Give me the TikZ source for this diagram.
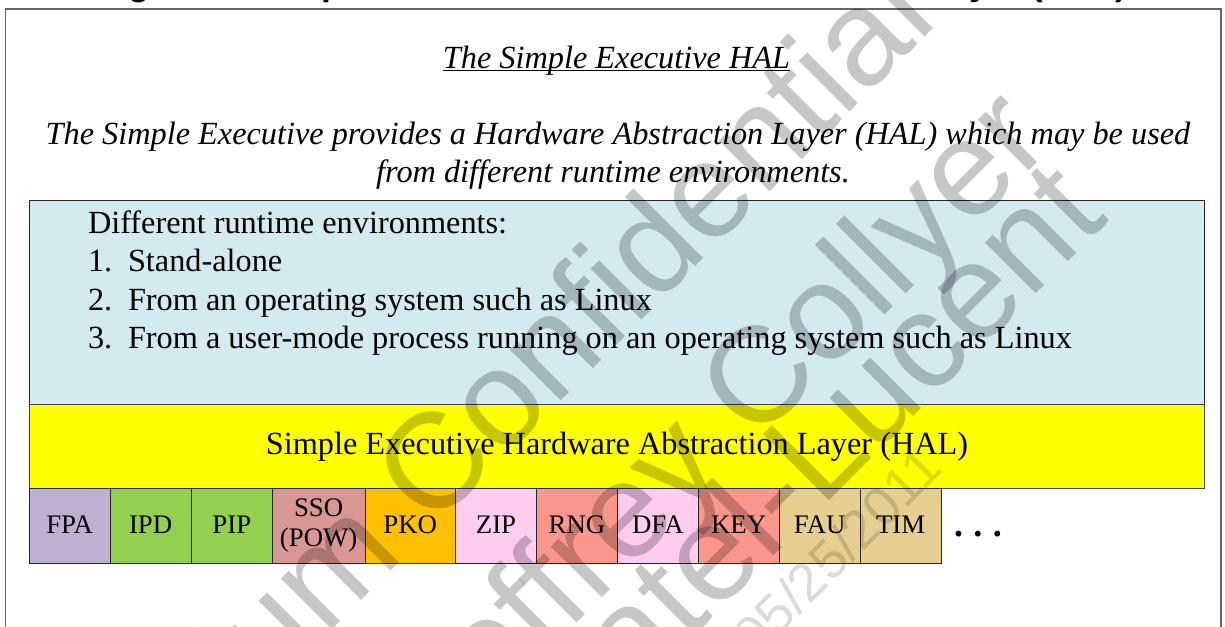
\documentclass[tikz,border=0pt]{standalone}
\usepackage{fontspec}
\setmainfont{Liberation Serif}
\newfontfamily\headsans{Liberation Sans}

\definecolor{envblue}{HTML}{D2EAF0}
\definecolor{halyellow}{HTML}{FFFF00}
\definecolor{fpacol}{HTML}{BFB0D2}
\definecolor{greencol}{HTML}{92D050}
\definecolor{ssocol}{HTML}{D99694}
\definecolor{pkocol}{HTML}{FFC000}
\definecolor{pinkcol}{HTML}{FDCCEF}
\definecolor{salmoncol}{HTML}{FA978A}
\definecolor{tancol}{HTML}{E5CE8F}
\definecolor{wmgray}{gray}{0.78}
\definecolor{wmlight}{gray}{0.86}

\begin{document}
\begin{tikzpicture}[x=1bp,y=-1bp,
  every node/.style={inner sep=0pt,outer sep=0pt},
  frame/.style={draw=black!60,line width=1.2bp},
  panel/.style={draw=black!85,line width=0.9bp,anchor=north west},
  bodytxt/.style={font=\fontsize{32.3bp}{38bp}\selectfont},
  introtxt/.style={font=\fontsize{32.3bp}{38bp}\selectfont\itshape},
  modbox/.style={draw=black!85,line width=0.9bp,anchor=north west,
    minimum height=75bp,align=center,
    font=\fontsize{26.8bp}{30bp}\selectfont},
  modlabel/.style={text height=18bp,text depth=2.6bp},
  wmark/.style={font=\fontsize{136bp}{150bp}\selectfont\headsans,
    text=wmgray,rotate=45,anchor=base east},
]
\useasboundingbox (0,0) rectangle (1225,627);
\begin{scope}
\clip (0,0) rectangle (1225,627);

% caption of the figure, mostly above the page edge
\node[anchor=base west,font=\fontsize{35bp}{40bp}\selectfont\headsans\bfseries]
  (figcaption) at (97,-4) {Figure 3: Simple Executive Hardware Abstraction Layer (HAL)};

% outer frame
\coordinate (frameBL) at (5.5,660);
\coordinate (frameTL) at (5.5,9);
\coordinate (frameTR) at (1221,9);
\coordinate (frameBR) at (1221,660);
\draw[frame] (frameBL) -- (frameTL) -- (frameTR) -- (frameBR);

% heading and introduction
\node[introtxt,anchor=base] (hdr) at (616.5,68.3) {The Simple Executive HAL};
\draw[line width=1.1bp] ([yshift=-2.4bp]hdr.base west) -- ([yshift=-2.4bp]hdr.base east);
\node[introtxt,anchor=base] (introA) at (618,145)
  {The Simple Executive provides a Hardware Abstraction Layer (HAL) which may be used};
\node[introtxt,anchor=base] (introB) at (613,182.7) {from different runtime environments.};

% runtime environments panel
\node[panel,fill=envblue,minimum width=1174.7bp,minimum height=203.3bp] (envs) at (29.3,200.7) {};
\node[bodytxt,anchor=base west] (envhead) at (88,233.5) {Different runtime environments:};
\node[bodytxt,anchor=base west] (num1) at (88,272) {1.};
\node[bodytxt,anchor=base west] (env1) at (128,272) {Stand-alone};
\node[bodytxt,anchor=base west] (num2) at (88,310.3) {2.};
\node[bodytxt,anchor=base west] (env2) at (128,310.3) {From an operating system such as Linux};
\node[bodytxt,anchor=base west] (num3) at (88,348.5) {3.};
\node[bodytxt,anchor=base west] (env3) at (128,348.5)
  {From a user-mode process running on an operating system such as Linux};

% HAL layer
\node[panel,fill=halyellow,draw=black!75,minimum width=1174.7bp,minimum height=84bp] (hal) at (29.3,404) {};
\node[bodytxt,anchor=base] (haltext) at (617,454) {Simple Executive Hardware Abstraction Layer (HAL)};

% hardware units
\node[modbox,modlabel,fill=fpacol,minimum width=80.7bp] (fpa) at (29.3,488.3) {FPA};
\node[modbox,modlabel,fill=greencol,minimum width=81.3bp] (ipd) at (110,488.3) {IPD};
\node[modbox,modlabel,fill=greencol,minimum width=81bp] (pip) at (191.3,488.3) {PIP};
\node[modbox,fill=ssocol,minimum width=92.7bp] (sso) at (272.3,488.3) {SSO\\(POW)};
\node[modbox,modlabel,fill=pkocol,minimum width=90.5bp] (pko) at (365,488.3) {PKO};
\node[modbox,modlabel,fill=pinkcol,minimum width=81bp] (zip) at (455.5,488.3) {ZIP};
\node[modbox,modlabel,fill=salmoncol,minimum width=81bp] (rng) at (536.5,488.3) {RNG};
\node[modbox,modlabel,fill=pinkcol,minimum width=80.8bp] (dfa) at (617.5,488.3) {DFA};
\node[modbox,modlabel,fill=salmoncol,minimum width=80.7bp] (key) at (698.3,488.3) {KEY};
\node[modbox,modlabel,fill=tancol,minimum width=81.3bp] (fau) at (779,488.3) {FAU};
\node[modbox,modlabel,fill=tancol,minimum width=80.7bp] (tim) at (860.3,488.3) {TIM};
\node[anchor=base,font=\fontsize{36bp}{40bp}\selectfont\bfseries] (more) at (978,536)
  {.\hspace{10.5bp}.\hspace{10.5bp}.};

% diagonal watermark
\begin{scope}[blend mode=multiply]
\node[wmark] (wmA) at (940,22) {Cavium Confidential};
\node[wmark] (wmB) at (1055,145) {Geoffrey Collyer};
\node[wmark] (wmC) at (1110,220) {Alcatel-Lucent};
\node[wmark,text=wmlight,font=\fontsize{54bp}{60bp}\selectfont\headsans] (wmD) at (945,470) {05/25/2011};
\end{scope}
\end{scope}
\end{tikzpicture}
\end{document}
